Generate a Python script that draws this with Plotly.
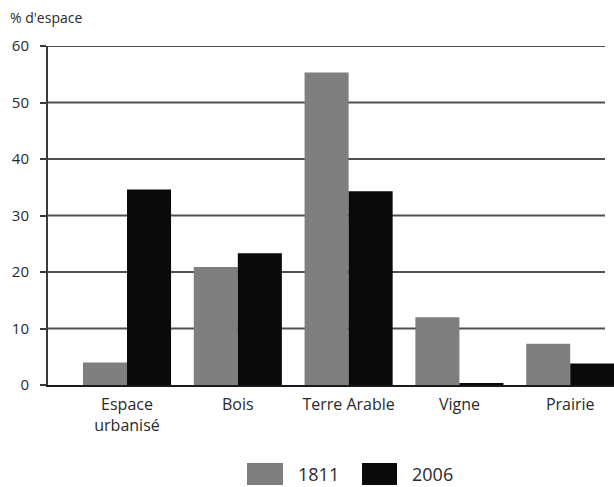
import plotly.graph_objects as go

# Land use share by category, 1811 vs 2006
categories = ["Espace<br>urbanisé", "Bois", "Terre Arable", "Vigne", "Prairie"]
years = ["1811", "2006"]
values_1811 = [4.0, 20.9, 55.3, 12.0, 7.3]
values_2006 = [34.6, 23.3, 34.3, 0.3, 3.8]
y_ticks = [0, 10, 20, 30, 40, 50, 60]

colors = {"1811": "#7f7f7f", "2006": "#0a0a0a"}

W, H = 614, 487
ML, MR, MT, MB = 48, 0, 46, 102
PW, PH = W - ML - MR, H - MT - MB

def px_x(p):
    return (p - ML) / PW

def px_y(p):
    return (H - MB - p) / PH

FONT = "Open Sans, Liberation Sans, sans-serif"
TXT = "#2a2a2a"

fig = go.Figure()
for name, vals in zip(years, [values_1811, values_2006]):
    fig.add_trace(go.Bar(
        x=categories, y=vals, name=name,
        marker=dict(color=colors[name], line=dict(width=0)),
        showlegend=False,
    ))

# Horizontal gridlines at each tick value, stopping short of the right edge
for t in y_ticks[1:]:
    fig.add_shape(type="line", xref="paper", yref="y", layer="below",
                  x0=0, x1=px_x(605), y0=t, y1=t,
                  line=dict(color="#505050", width=2))

# Legend drawn as swatches + labels beneath the plot
swatches = [(247, 283, 296), (362, 397, 410)]
for name, (x0, x1, tx) in zip(years, swatches):
    fig.add_shape(type="rect", xref="paper", yref="paper",
                  x0=px_x(x0), x1=px_x(x1), y0=px_y(485), y1=px_y(463),
                  fillcolor=colors[name], line=dict(width=0))
    fig.add_annotation(text=name, xref="paper", yref="paper",
                       x=px_x(tx), y=px_y(474), xanchor="left", yanchor="middle",
                       showarrow=False, font=dict(family=FONT, size=18, color=TXT))

fig.add_annotation(text="% d'espace", xref="paper", yref="paper",
                   x=px_x(8), y=px_y(18), xanchor="left", yanchor="middle",
                   showarrow=False, font=dict(family=FONT, size=14, color=TXT))

fig.update_layout(
    width=W, height=H,
    margin=dict(l=ML, r=MR, t=MT, b=MB),
    paper_bgcolor="white", plot_bgcolor="white",
    barmode="group", bargap=0.205, bargroupgap=0,
    font=dict(family=FONT, size=15, color=TXT),
)
fig.update_xaxes(
    type="category", range=[-0.713, 4.395],
    showline=True, linecolor="#1a1a1a", linewidth=2,
    ticks="", showgrid=False, ticklabelstandoff=4,
    tickfont=dict(size=16, color=TXT),
)
fig.update_yaxes(
    range=[0, 60], tickvals=y_ticks,
    showline=True, linecolor="#3a3a3a", linewidth=2,
    ticks="outside", ticklen=6, tickwidth=2, tickcolor="#3a3a3a",
    showgrid=False, zeroline=False, ticklabelstandoff=8,
    tickfont=dict(size=15, color=TXT),
)

fig.write_html("out.html")
